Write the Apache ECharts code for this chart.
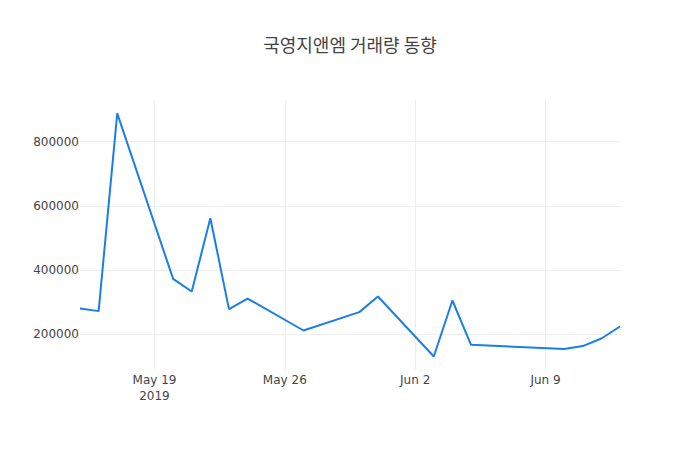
<!DOCTYPE html>
<html>
<head>
<meta charset="utf-8">
<script src="https://cdn.jsdelivr.net/npm/echarts@6/dist/echarts.min.js"></script>
<style>
  html, body { margin: 0; padding: 0; background: #fff; }
  #chart { width: 700px; height: 450px; }
</style>
</head>
<body>
<div id="chart"></div>
<script>
// 거래량 데이터
var dates = [
  '2019-05-15', '2019-05-16', '2019-05-17', '2019-05-20', '2019-05-21',
  '2019-05-22', '2019-05-23', '2019-05-24', '2019-05-27', '2019-05-30',
  '2019-05-31', '2019-06-03', '2019-06-04', '2019-06-05', '2019-06-10',
  '2019-06-11', '2019-06-12', '2019-06-13'
];
var volumes = [
  279800, 271600, 888500, 372300, 332700,
  561400, 277900, 310900, 211200, 268500,
  317100, 130200, 304700, 166700, 153300,
  162600, 186300, 223700
];
var xTicks = ['2019-05-19', '2019-05-26', '2019-06-02', '2019-06-09'];
var yTicks = [200000, 400000, 600000, 800000];
var months = ['Jan', 'Feb', 'Mar', 'Apr', 'May', 'Jun', 'Jul', 'Aug', 'Sep', 'Oct', 'Nov', 'Dec'];

(function() {
  function toTime(s) {
    var p = s.split('-');
    return Date.UTC(+p[0], +p[1] - 1, +p[2]);
  }
  var ink = '#444';
  var grid = '#eeeeee';
  var tickTimes = xTicks.map(toTime);

  var chart = echarts.init(document.getElementById('chart'), null, { renderer: 'svg' });
  chart.setOption({
    animation: false,
    textStyle: { fontFamily: '"DejaVu Sans", sans-serif' },
    title: {
      text: '국영지앤엠 거래량 동향',
      left: 'center',
      top: 30,
      textStyle: { fontFamily: '"Noto Sans CJK KR", sans-serif', fontSize: 18, fontWeight: 'normal', color: ink }
    },
    grid: { left: 80, right: 80, top: 100, bottom: 80, containLabel: false },
    xAxis: {
      type: 'value',
      min: toTime(dates[0]),
      max: toTime(dates[dates.length - 1]),
      axisLine: { show: false },
      axisTick: { show: false, customValues: tickTimes },
      splitLine: { show: true, lineStyle: { color: grid, width: 1 } },
      axisLabel: {
        customValues: tickTimes,
        color: ink,
        fontSize: 12,
        margin: 2,
        lineHeight: 16,
        formatter: function(v) {
          var d = new Date(v);
          var s = months[d.getUTCMonth()] + ' ' + d.getUTCDate();
          if (v === tickTimes[0]) s += '\n' + d.getUTCFullYear();
          return s;
        }
      }
    },
    yAxis: {
      type: 'value',
      min: 88000,
      max: 930000,
      axisLine: { show: false },
      axisTick: { show: false, customValues: yTicks },
      splitLine: { show: true, lineStyle: { color: grid, width: 1 } },
      axisLabel: {
        customValues: yTicks,
        color: ink,
        fontSize: 12,
        margin: 1,
        formatter: function(v) { return String(v); }
      }
    },
    series: [{
      type: 'line',
      data: dates.map(function(d, i) { return [toTime(d), volumes[i]]; }),
      symbol: 'none',
      lineStyle: { color: '#1a7fe5', width: 2 },
      itemStyle: { color: '#1a7fe5' }
    }]
  });
})();
</script>
</body>
</html>
